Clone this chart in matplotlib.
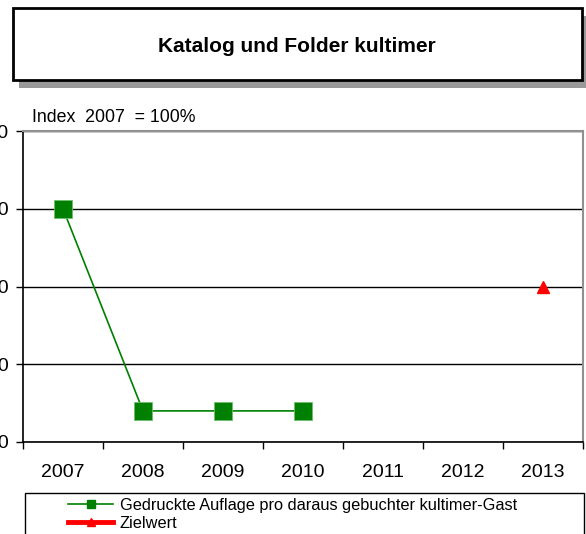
import matplotlib
matplotlib.use("Agg")
import matplotlib.pyplot as plt
from matplotlib.lines import Line2D
from matplotlib.patches import Rectangle
from matplotlib.ticker import FixedLocator

plt.rcParams['font.family'] = ['Liberation Sans', 'DejaVu Sans']

years = ['2007', '2008', '2009', '2010', '2011', '2012', '2013']
auflage = [100, 74, 74, 74]          # 2007-2010
ziel_year = 6                        # index of 2013
ziel_value = 90
yticks = [70, 80, 90, 100, 110]

W, H = 586, 534
fig = plt.figure(figsize=(W / 100, H / 100), dpi=100)

def px(x0, y0, x1, y1):
    # pixel box (top-left origin) -> figure fraction [l, b, w, h]
    return [x0 / W, 1 - y1 / H, (x1 - x0) / W, (y1 - y0) / H]

# title box with shadow
l, b, w, h = px(19, 16, 590, 88)
fig.patches.append(Rectangle((l, b), w, h, transform=fig.transFigure,
                             facecolor='#999999', edgecolor='none', zorder=0))
l, b, w, h = px(13, 8, 582, 80)
fig.patches.append(Rectangle((l, b), w, h, transform=fig.transFigure,
                             facecolor='white', edgecolor='black', lw=2, zorder=1))
fig.text(297 / W, 1 - 47 / H, 'Katalog und Folder kultimer', ha='center', va='center',
         fontsize=15, fontweight='bold', zorder=2)

ax = fig.add_axes(px(23, 131, 583, 442))
x = list(range(len(auflage)))
ax.plot(x, auflage, color='#008000', lw=1.2, marker='s', markersize=13,
        markerfacecolor='#008000', markeredgecolor='#6cc06c', markeredgewidth=0.6, zorder=3)
ax.plot([ziel_year], [ziel_value], color='red', lw=0, marker='^', markersize=9,
        markeredgecolor='red', zorder=3)

ax.set_xlim(-0.5, len(years) - 0.5)
ax.set_ylim(yticks[0], yticks[-1])
ax.set_xticks(range(len(years)))
ax.set_xticklabels(years, fontsize=14)
ax.xaxis.set_minor_locator(FixedLocator([i - 0.5 for i in range(len(years) + 1)]))
ax.tick_params(axis='x', which='major', length=0, pad=16)
ax.tick_params(axis='x', which='minor', length=5, width=1, color='black')
ax.set_yticks(yticks)
ax.set_yticklabels([str(v) for v in yticks], fontsize=14)
ax.tick_params(axis='y', length=5, width=1, pad=5)
ax.grid(axis='y', color='black', lw=1)
ax.set_axisbelow(True)
for s in ['left', 'bottom']:
    ax.spines[s].set_color('black')
    ax.spines[s].set_linewidth(1.2)
for s in ['top', 'right']:
    ax.spines[s].set_color('#909090')
    ax.spines[s].set_linewidth(1.5)

fig.text(32 / W, 1 - 118 / H, 'Index  2007  = 100%', ha='left', va='center', fontsize=12.8)

# legend frame drawn separately so the entries can sit further right
l, b, w, h = px(25, 493, 584, 545)
fig.patches.append(Rectangle((l, b), w, h, transform=fig.transFigure,
                             facecolor='white', edgecolor='black', lw=1, zorder=1))
handles = [
    Line2D([], [], color='#008000', lw=1.2, marker='s', markersize=6),
    Line2D([], [], color='red', lw=3.5, marker='^', markersize=6),
]
labels = ['Gedruckte Auflage pro daraus gebuchter kultimer-Gast', 'Zielwert']
leg = fig.legend(handles, labels, loc='upper left', bbox_to_anchor=(68 / W, 1 - 498 / H),
                 fontsize=11.8, frameon=False, borderaxespad=0, borderpad=0,
                 handlelength=2.75, handletextpad=0.42, labelspacing=0.16)
leg.set_zorder(2)

fig.savefig('out.png', dpi=100)
